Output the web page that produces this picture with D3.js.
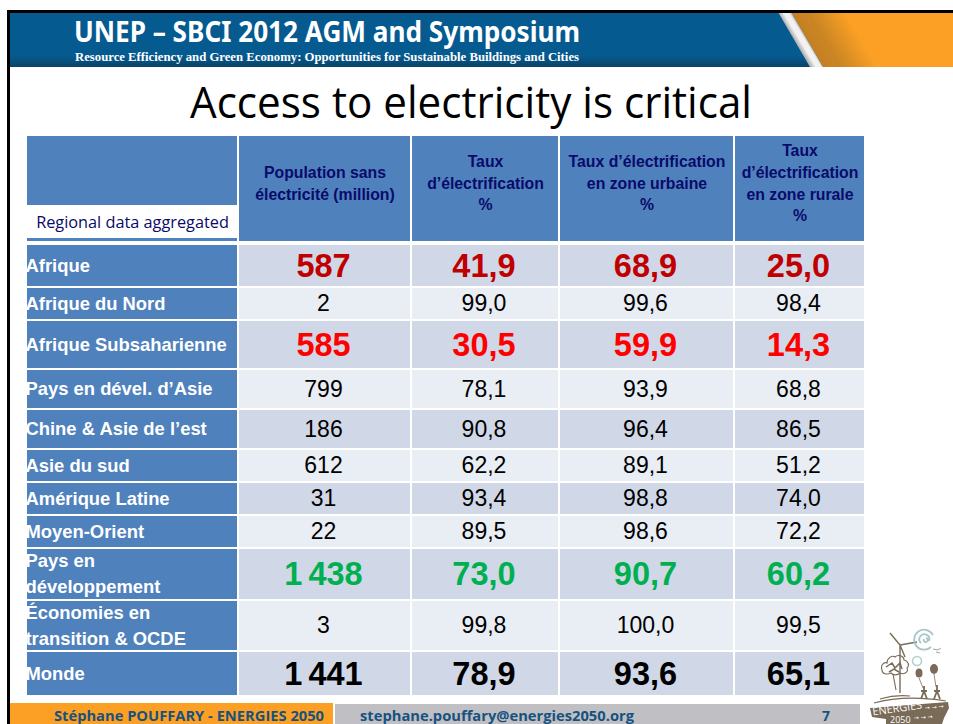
<!DOCTYPE html>
<html lang="en">
<head>
<meta charset="UTF-8">
<title>Access to electricity is critical</title>
<script src="https://d3js.org/d3.v7.min.js"></script>
<style>
    html, body { margin: 0; padding: 0; background: #fff; }
    svg { display: block; }
    .cell-label { font-family: "Liberation Sans", Arial, sans-serif; font-weight: bold; }
</style>
</head>
<body>
<svg width="953" height="724"></svg>
<script>
    // table content
    const regions = ["Afrique", "Afrique du Nord", "Afrique Subsaharienne", "Pays en dével. d’Asie",
        "Chine & Asie de l’est", "Asie du sud", "Amérique Latine", "Moyen-Orient",
        "Pays en|développement", "Économies en|transition & OCDE", "Monde"];
    const columns = ["pop", "taux", "urbain", "rural"];
    const headers = [
        ["Population sans", "électricité (million)"],
        ["Taux", "d’électrification", "%"],
        ["Taux d’électrification", "en zone urbaine", "%"],
        ["Taux", "d’électrification", "en zone rurale", "%"]
    ];
    const pop = ["587", "2", "585", "799", "186", "612", "31", "22", "1 438", "3", "1 441"];
    const taux = ["41,9", "99,0", "30,5", "78,1", "90,8", "62,2", "93,4", "89,5", "73,0", "99,8", "78,9"];
    const urbain = ["68,9", "99,6", "59,9", "93,9", "96,4", "89,1", "98,8", "98,6", "90,7", "100,0", "93,6"];
    const rural = ["25,0", "98,4", "14,3", "68,8", "86,5", "51,2", "74,0", "72,2", "60,2", "99,5", "65,1"];
    const valuesByColumn = [pop, taux, urbain, rural];
    const rowStyle = ["dark", "", "bright", "", "", "", "", "", "green", "", "black"];

    // layout
    const colLeft = d3.scaleOrdinal().domain(columns).range([239, 412, 560, 735]);
    const colRight = d3.scaleOrdinal().domain(columns).range([410, 558, 733, 864]);
    const rowTop = d3.scaleOrdinal().domain(regions).range([245, 288, 321, 370, 410, 450, 483, 516, 549, 601, 652]);
    const rowBottom = d3.scaleOrdinal().domain(regions).range([286, 319, 368, 408, 448, 481, 514, 547, 599, 650, 695]);
    const valueColor = d3.scaleOrdinal().domain(["dark", "", "bright", "green", "black"])
        .range(["#c00000", "#000", "#ff0000", "#00b050", "#000"]);

    const blue = "#4f81bd", navy = "#0a0a6b";
    const svg = d3.select("svg");

    // slide frame
    svg.append("rect").attr("x", 7).attr("y", 10).attr("width", 3).attr("height", 714).attr("fill", "#000");

    // banner
    const defs = svg.append("defs");
    const shade = defs.append("linearGradient").attr("id", "bannerBlue").attr("x2", 0).attr("y2", 1);
    shade.append("stop").attr("offset", "0.8").attr("stop-color", "#055a8f");
    shade.append("stop").attr("offset", "1").attr("stop-color", "#0a4468");
    const orange = defs.append("linearGradient").attr("id", "bannerOrange").attr("gradientUnits", "userSpaceOnUse")
        .attr("x1", 791).attr("y1", 13).attr("x2", 831).attr("y2", -11);
    orange.append("stop").attr("offset", "0").attr("stop-color", "#c47f22");
    orange.append("stop").attr("offset", "0.35").attr("stop-color", "#cb8623");
    orange.append("stop").attr("offset", "1").attr("stop-color", "#fba025");
    const stripe = defs.append("linearGradient").attr("id", "bannerStripe").attr("gradientUnits", "userSpaceOnUse")
        .attr("x1", 779).attr("y1", 13).attr("x2", 789).attr("y2", 7);
    stripe.append("stop").attr("offset", "0").attr("stop-color", "#b5b5b5");
    stripe.append("stop").attr("offset", "0.35").attr("stop-color", "#f2f2f2");
    stripe.append("stop").attr("offset", "0.7").attr("stop-color", "#f2f2f2");
    stripe.append("stop").attr("offset", "1").attr("stop-color", "#a8a8a8");
    svg.append("rect").attr("x", 10).attr("y", 12).attr("width", 943).attr("height", 55).attr("fill", "url(#bannerBlue)");
    svg.append("path").attr("d", "M791,12H953V67H823Z").attr("fill", "url(#bannerOrange)");
    svg.append("path").attr("d", "M778,12H791L823,67H810Z").attr("fill", "url(#bannerStripe)");
    svg.append("rect").attr("x", 7).attr("y", 10).attr("width", 946).attr("height", 3).attr("fill", "#000");

    svg.append("text").attr("x", 74).attr("y", 42)
        .attr("font-family", "'Noto Sans', sans-serif").attr("font-weight", "bold").attr("font-size", 28)
        .attr("fill", "#fff").attr("textLength", 506).attr("lengthAdjust", "spacingAndGlyphs")
        .text("UNEP – SBCI 2012 AGM and Symposium");
    svg.append("text").attr("x", 75).attr("y", 61)
        .attr("font-family", "'Liberation Serif', serif").attr("font-weight", "bold").attr("font-size", 12.5)
        .attr("fill", "#fff").attr("textLength", 504).attr("lengthAdjust", "spacingAndGlyphs")
        .text("Resource Efficiency and Green Economy: Opportunities for Sustainable Buildings and Cities");

    svg.append("text").attr("x", 471).attr("y", 118).attr("text-anchor", "middle")
        .attr("font-family", "'Open Sans', sans-serif").attr("font-size", 43)
        .attr("fill", "#000").attr("textLength", 562).attr("lengthAdjust", "spacingAndGlyphs")
        .text("Access to electricity is critical");

    // header row
    svg.append("rect").attr("x", 27).attr("y", 136).attr("width", 210).attr("height", 105).attr("fill", blue);
    svg.append("rect").attr("x", 27).attr("y", 205).attr("width", 210).attr("height", 33).attr("fill", "#fff");
    svg.append("text").attr("x", 132.5).attr("y", 228).attr("text-anchor", "middle")
        .attr("font-family", "'Open Sans', sans-serif").attr("font-size", 16.3).attr("fill", navy)
        .text("Regional data aggregated");

    const headerLineY = [[173, 195], [162, 184, 205], [162, 184, 205], [151, 173, 195, 216]];
    columns.forEach((c, i) => {
        svg.append("rect").attr("x", colLeft(c)).attr("y", 136)
            .attr("width", colRight(c) - colLeft(c)).attr("height", 105).attr("fill", blue);
        headers[i].forEach((line, k) => {
            svg.append("text").attr("class", "cell-label")
                .attr("x", (colLeft(c) + colRight(c)) / 2 + 0.5).attr("y", headerLineY[i][k] + 5)
                .attr("text-anchor", "middle").attr("font-size", 15.8).attr("fill", navy)
                .text(line);
        });
    });

    // row labels get cut by the cell edge in the original slide
    defs.append("clipPath").attr("id", "labelClip").append("rect")
        .attr("x", 27).attr("y", 136).attr("width", 210).attr("height", 560);

    // body rows
    regions.forEach((r, i) => {
        const top = rowTop(r), bottom = rowBottom(r);
        const g = svg.append("g");
        g.append("rect").attr("x", 27).attr("y", top).attr("width", 210)
            .attr("height", bottom - top).attr("fill", blue);
        const lines = r.split("|");
        lines.forEach((line, k) => {
            g.append("text").attr("class", "cell-label").attr("clip-path", "url(#labelClip)")
                .attr("x", 25.5).attr("y", (top + bottom) / 2 + 6 + (k - (lines.length - 1) / 2) * 26)
                .attr("font-size", 18.4).attr("fill", "#fff")
                .text(line);
        });
        columns.forEach((c, j) => {
            g.append("rect").attr("x", colLeft(c)).attr("y", top)
                .attr("width", colRight(c) - colLeft(c)).attr("height", bottom - top)
                .attr("fill", i % 2 === 0 ? "#d0d8e8" : "#e9edf4");
            const big = rowStyle[i] !== "";
            g.append("text")
                .attr("x", (colLeft(c) + colRight(c)) / 2 - 1)
                .attr("y", (top + bottom) / 2 + (big ? 11 : 7.5))
                .attr("text-anchor", "middle")
                .attr("font-family", "'Liberation Sans', Arial, sans-serif")
                .attr("font-weight", big ? "bold" : "normal")
                .attr("font-size", big ? 32.5 : 23)
                .attr("word-spacing", big ? -3 : 0)
                .attr("fill", valueColor(rowStyle[i]))
                .text(valuesByColumn[j][i]);
        });
    });

    // footer
    svg.append("rect").attr("x", 10).attr("y", 703).attr("width", 323).attr("height", 21).attr("fill", "#fba025");
    svg.append("rect").attr("x", 335).attr("y", 704).attr("width", 525).attr("height", 20).attr("fill", "#bfbfc4");
    const footer = [
        [54, "Stéphane POUFFARY - ENERGIES 2050", 270],
        [360, "stephane.pouffary@energies2050.org", 274],
        [822, "7", 8]
    ];
    footer.forEach(f => {
        svg.append("text").attr("x", f[0]).attr("y", 720.5)
            .attr("font-family", "'Open Sans', sans-serif").attr("font-weight", "bold").attr("font-size", 14)
            .attr("fill", "#17527f").attr("textLength", f[2]).attr("lengthAdjust", "spacingAndGlyphs")
            .text(f[1]);
    });

    // ENERGIES 2050 logo, rough drawing
    const logo = svg.append("g").attr("fill", "none").attr("stroke", "#7a6a58");
    logo.append("path").attr("d", "M890,633L900,645L900,693M900,645L917,642M900,645L905,657").attr("stroke-width", 1.4);
    logo.append("path").attr("d", "M933,635A10,10 0 1 0 931,647M929,641A5,5 0 1 0 921,643M924,639A2,2 0 1 0 926,638")
        .attr("stroke", "#a8c6c8").attr("stroke-width", 1.8);
    logo.append("circle").attr("cx", 917).attr("cy", 661).attr("r", 4.5).attr("stroke", "#b4cfd0").attr("stroke-width", 1.6);
    logo.append("path").attr("d", "M933,649l5,1l3,-2M936,652l4,1").attr("stroke", "#8a8a80").attr("stroke-width", 0.8);
    // tree crown scribble
    const crown = logo.append("g").attr("stroke-width", 1.1).attr("stroke", "#7a6a58");
    crown.append("path").attr("d", "M882,670c-2,-6 3,-8 5,-7c0,-5 5,-8 8,-6c3,-3 9,-1 9,3c4,1 6,5 3,8c2,4 -3,7 -7,5c-3,3 -7,2 -9,0c-4,2 -9,1 -9,-3Z");
    crown.append("path").attr("d", "M886,667l6,-4l3,5l5,-5l2,6M889,672l5,-3l5,3").attr("stroke-width", 1.5);
    logo.append("path").attr("d", "M893,674L896,690").attr("stroke-width", 1.2);
    logo.append("ellipse").attr("cx", 919).attr("cy", 673).attr("rx", 3.5).attr("ry", 4.5).attr("fill", "#7a6a58").attr("stroke", "none");
    logo.append("ellipse").attr("cx", 934).attr("cy", 669).attr("rx", 4).attr("ry", 5).attr("fill", "#7a6a58").attr("stroke", "none");
    logo.append("path").attr("d", "M919,678L923,688M934,674L936,687").attr("stroke-width", 0.8);
    // the two children
    logo.append("path").attr("d", "M924,686v5m-3,8l3,-8l3,8M921,691h6M937,685v6m-3,8l3,-8l3,8M934,691h6").attr("stroke-width", 1.8);
    logo.append("path").attr("d", "M874,703c18,-5 40,-7 72,-2M880,699c10,-3 20,-4 30,-3").attr("stroke-width", 1.2);
    logo.append("path").attr("d", "M870,708L948,702L949,708L944,718L942,724L886,724L886,719L872,717Z").attr("fill", "#7a6a58").attr("stroke", "none");
    svg.append("text").attr("transform", "translate(873,715.5) rotate(-8)")
        .attr("font-family", "'Open Sans', sans-serif").attr("font-size", 11).attr("fill", "#fff")
        .attr("textLength", 50).attr("lengthAdjust", "spacingAndGlyphs").text("ENERGIES");
    svg.append("text").attr("x", 890).attr("y", 723)
        .attr("font-family", "'Open Sans', sans-serif").attr("font-size", 9).attr("fill", "#fff").text("2050");
    svg.append("text").attr("transform", "translate(925,710) rotate(-5)")
        .attr("font-family", "'DejaVu Sans', sans-serif").attr("font-size", 6).attr("fill", "#fff").text("→ → →");
    svg.append("text").attr("transform", "translate(914,720) rotate(-4)")
        .attr("font-family", "'DejaVu Sans', sans-serif").attr("font-size", 6).attr("fill", "#fff").text("→ → →");
</script>
</body>
</html>
